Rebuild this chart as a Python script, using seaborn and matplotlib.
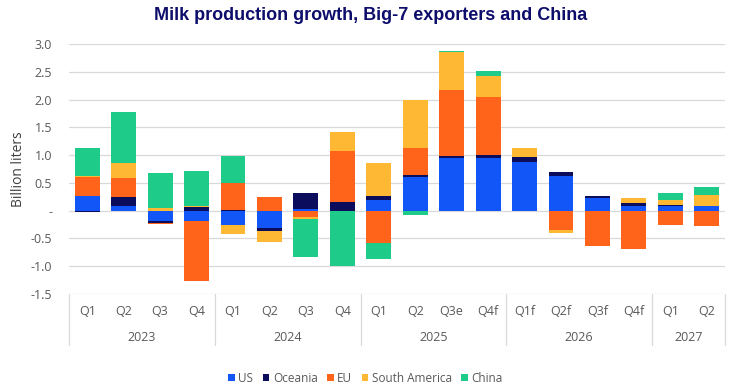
import numpy as np
import matplotlib.pyplot as plt
import matplotlib.transforms as mtransforms
from matplotlib.patches import Patch
from matplotlib.lines import Line2D
import seaborn as sns

# ── data (billion liters, change vs year earlier) ───────────────────
quarters = ['Q1', 'Q2', 'Q3', 'Q4',
            'Q1', 'Q2', 'Q3', 'Q4',
            'Q1', 'Q2', 'Q3e', 'Q4f',
            'Q1f', 'Q2f', 'Q3f', 'Q4f',
            'Q1', 'Q2']
years = ['2023', '2024', '2025', '2026', '2027']
year_sizes = [4, 4, 4, 4, 2]

us      = [0.26, 0.08, -0.19, -0.19, -0.25, -0.32, 0.03, 0.00, 0.20, 0.61, 0.94, 0.95, 0.88, 0.63, 0.23, 0.09, 0.08, 0.08]
oceania = [-0.02, 0.16, -0.03, 0.07, 0.02, -0.05, 0.29, 0.16, 0.07, 0.03, 0.04, 0.05, 0.08, 0.07, 0.04, 0.05, 0.03, 0.01]
eu      = [0.35, 0.34, -0.02, -1.07, 0.47, 0.25, -0.11, 0.92, -0.58, 0.49, 1.19, 1.05, 0.00, -0.35, -0.64, -0.69, -0.26, -0.28]
s_amer  = [0.02, 0.28, 0.04, 0.02, -0.17, -0.20, -0.04, 0.33, 0.59, 0.87, 0.69, 0.38, 0.16, -0.05, 0.00, 0.08, 0.09, 0.20]
china   = [0.49, 0.92, 0.63, 0.63, 0.50, 0.00, -0.68, -1.00, -0.29, -0.08, 0.02, 0.08, 0.00, 0.00, 0.00, 0.01, 0.11, 0.13]

series_names = ['US', 'Oceania', 'EU', 'South America', 'China']
series_vals = [us, oceania, eu, s_amer, china]
colors = ['#1356f7', '#0b0c5c', '#ff641a', '#ffb833', '#1fcb88']

# ── style ──────────────────────────────────────────────────────────
sns.set_theme(style="white")
plt.rcParams['font.family'] = ['Open Sans', 'DejaVu Sans']
grey = '#595959'

fig = plt.figure(figsize=(7.31, 3.84), dpi=100)
ax = fig.add_axes([69/731, 90/384, 656/731, 250/384])

# unique category keys so repeated quarter names stay separate
keys = [f'{i:02d}' for i in range(len(quarters))]

# stacked bars: positives stack up, negatives stack down (series order)
vals = np.array(series_vals)
pos_cum = np.cumsum(np.clip(vals, 0, None), axis=0)
neg_cum = np.cumsum(np.clip(vals, None, 0), axis=0)

# draw from the top layer down so lower layers overlay the cumulative bars
for i in range(len(series_names) - 1, -1, -1):
    sns.barplot(x=keys, y=pos_cum[i], order=keys, color=colors[i],
                saturation=1, width=0.68, linewidth=0, ax=ax)
    sns.barplot(x=keys, y=neg_cum[i], order=keys, color=colors[i],
                saturation=1, width=0.68, linewidth=0, ax=ax)

ax.set_xlim(-0.5, len(keys) - 0.5)
ax.set_ylim(-1.5, 3.0)
yticks = np.arange(-1.5, 3.01, 0.5)
ax.set_yticks(yticks)
ax.set_yticklabels(['-' if abs(t) < 1e-9 else f'{t:.1f}' for t in yticks],
                   color=grey, fontsize=9)
ax.tick_params(axis='y', length=0, pad=12)
ax.set_xticks([])
ax.set_xlabel('')
ax.set_ylabel('Billion liters', color='#404040', fontsize=10)
ax.yaxis.set_label_coords(-0.066, 0.5)
ax.yaxis.grid(True, color='#d9d9d9', linewidth=0.9)
ax.set_axisbelow(True)
sns.despine(ax=ax, left=True, bottom=True)

# ── category table below the axis ───────────────────────────────────
trans = mtransforms.blended_transform_factory(ax.transData, fig.transFigure)
y_top = 90 / 384
y_bot = 1 - 345 / 384
for i, q in enumerate(quarters):
    ax.text(i, 1 - 311.5 / 384, q, transform=trans, ha='center', va='center',
            color=grey, fontsize=9, clip_on=False)

edge = -0.5
bounds = [edge]
for y, n in zip(years, year_sizes):
    ax.text(edge + n / 2, 1 - 337.5 / 384, y, transform=trans, ha='center',
            va='center', color=grey, fontsize=9, clip_on=False)
    edge += n
    bounds.append(edge)
for b in bounds:
    ax.add_line(Line2D([b, b], [y_bot, y_top], transform=trans,
                       color='#d9d9d9', linewidth=0.9, clip_on=False))

# ── title & legend ─────────────────────────────────────────────────
fig.text(0.507, 1 - 15 / 384, 'Milk production growth, Big-7 exporters and China',
         ha='center', va='center', fontsize=13, fontweight='bold',
         color='#0d0d6b', family=['Liberation Sans', 'DejaVu Sans'])

handles = [Patch(facecolor=c, edgecolor='none', label=n)
           for n, c in zip(series_names, colors)]
leg = fig.legend(handles=handles, loc='center', bbox_to_anchor=(0.5, 1 - 378 / 384),
                 ncol=5, frameon=False, fontsize=8.5, handlelength=0.55,
                 handleheight=0.55, handletextpad=0.3, columnspacing=0.8)
for t in leg.get_texts():
    t.set_color(grey)

fig.savefig('out.png', dpi=100)
